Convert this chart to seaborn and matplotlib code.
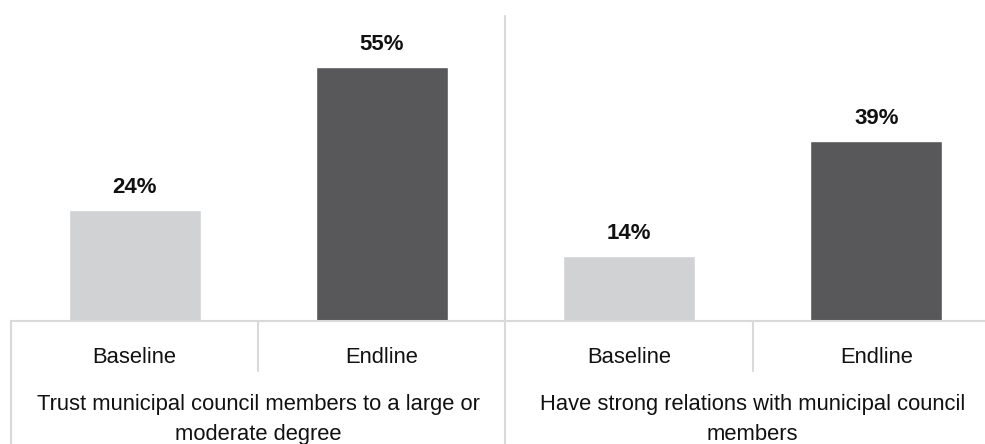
import matplotlib
matplotlib.use("Agg")
import matplotlib.pyplot as plt
import seaborn as sns
import pandas as pd

groups = [
    "Trust municipal council members to a large or\nmoderate degree",
    "Have strong relations with municipal council\nmembers",
]
periods = ["Baseline", "Endline"]
values = [[24, 55], [14, 39]]

rows = []
for g, vals in zip(groups, values):
    for p, v in zip(periods, vals):
        rows.append({"group": g, "period": p, "slot": f"{g}|{p}", "value": v})
df = pd.DataFrame(rows)

sns.set_theme(style="white")
plt.rcParams["font.family"] = ["Liberation Sans", "DejaVu Sans"]

W, H = 985, 444
AX_H = 305
fig = plt.figure(figsize=(W / 100, H / 100), dpi=100)
ax = fig.add_axes([11 / W, (H - 321) / H, 974 / W, AX_H / H])

palette = {"Baseline": "#d1d2d4", "Endline": "#58585a"}
sns.barplot(data=df, x="slot", y="value", hue="period", palette=palette,
            dodge=False, width=0.534, legend=False, ax=ax, saturation=1)

ax.set_xlim(-0.5, 3.44)
ax.set_ylim(0, 66)
ax.set_xticks([])
ax.set_yticks([])
ax.set_xlabel("")
ax.set_ylabel("")
for s in ax.spines.values():
    s.set_visible(False)

# value labels above each bar
for cont in ax.containers:
    for bar in cont:
        h = bar.get_height()
        ax.annotate(f"{h:.0f}%", (bar.get_x() + bar.get_width() / 2, h),
                    xytext=(0, 12.2), textcoords="offset points", ha="center",
                    va="baseline", fontsize=16, fontweight="bold", color="#111111")

line_c = "#d9d9d9"
trans = ax.get_xaxis_transform()
below = -(H - 321) / AX_H
# horizontal category axis line
ax.plot([-0.5, 3.44], [0, 0], color=line_c, lw=1.5, transform=trans, clip_on=False)
# outer left border
ax.plot([-0.5, -0.5], [0, below], color=line_c, lw=1.5, transform=trans, clip_on=False)
# divider between the two groups, full height
ax.plot([1.5, 1.5], [1, below], color=line_c, lw=1.5, transform=trans, clip_on=False)
# dividers between periods inside each group
for gx in [0.5, 2.5]:
    ax.plot([gx, gx], [0, -50 / AX_H], color=line_c, lw=1.5, transform=trans, clip_on=False)

n = len(periods)
for i, g in enumerate(groups):
    for j, p in enumerate(periods):
        ax.text(i * n + j, -42 / AX_H, p, transform=trans, ha="center", va="baseline",
                fontsize=15.8, color="#111111")
    # group caption, one baseline per wrapped line
    for k, line in enumerate(g.split("\n")):
        ax.text(i * n + (n - 1) / 2, -(89 + 29.5 * k) / AX_H, line, transform=trans,
                ha="center", va="baseline", fontsize=15.8, color="#111111")

fig.savefig("out.png", dpi=100)
